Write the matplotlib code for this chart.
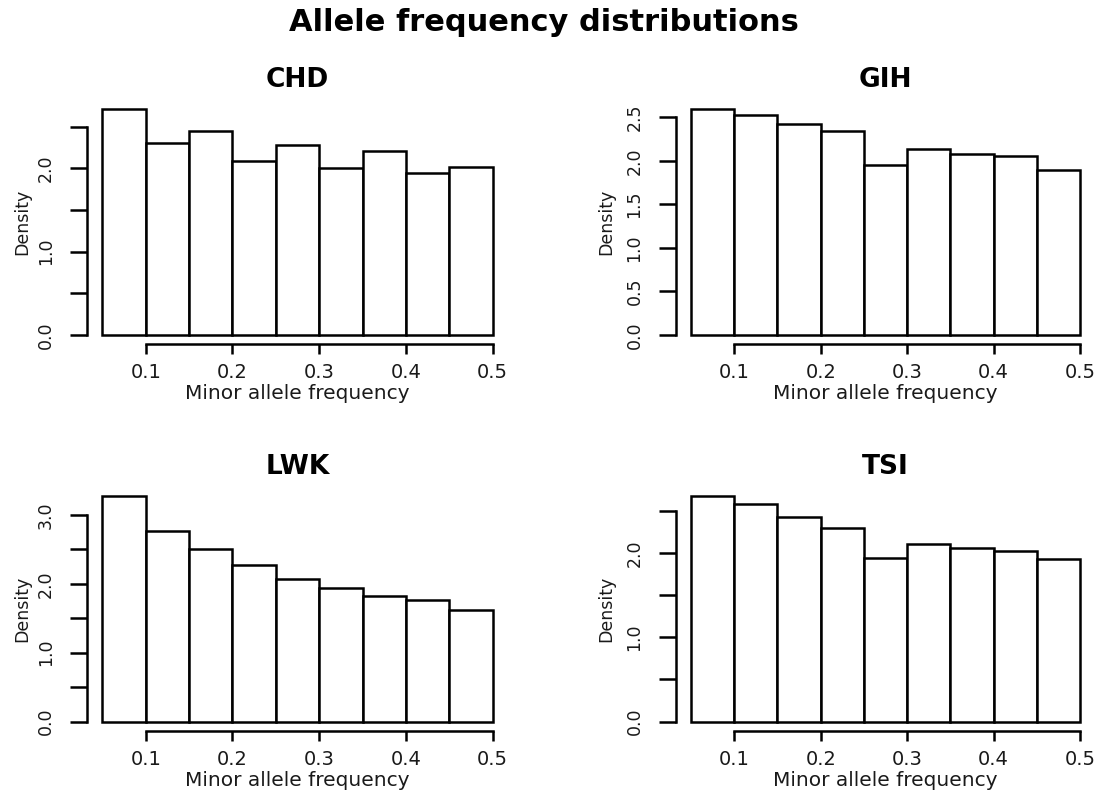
import numpy as np
import matplotlib
matplotlib.use("Agg")
import matplotlib.pyplot as plt

plt.rcParams['font.family'] = ['DejaVu Sans']

# bin edges shared by all histograms
edges = [0.05, 0.10, 0.15, 0.20, 0.25, 0.30, 0.35, 0.40, 0.45, 0.50]

# densities
populations = ["CHD", "GIH", "LWK", "TSI"]
chd = [2.72, 2.31, 2.45, 2.09, 2.28, 2.00, 2.21, 1.94, 2.02]
gih = [2.60, 2.53, 2.42, 2.34, 1.95, 2.14, 2.08, 2.05, 1.90]
lwk = [3.28, 2.77, 2.50, 2.27, 2.07, 1.94, 1.82, 1.76, 1.62]
tsi = [2.68, 2.58, 2.43, 2.29, 1.94, 2.10, 2.06, 2.02, 1.93]
densities = [chd, gih, lwk, tsi]

# y ticks and which ones R actually labelled
yticks = [
    [0.0, 0.5, 1.0, 1.5, 2.0, 2.5],
    [0.0, 0.5, 1.0, 1.5, 2.0, 2.5],
    [0.0, 0.5, 1.0, 1.5, 2.0, 2.5, 3.0],
    [0.0, 0.5, 1.0, 1.5, 2.0, 2.5],
]
yticklabels = [
    ["0.0", "", "1.0", "", "2.0", ""],
    ["0.0", "0.5", "1.0", "1.5", "2.0", "2.5"],
    ["0.0", "", "1.0", "", "2.0", "", "3.0"],
    ["0.0", "", "1.0", "", "2.0", ""],
]
xticks = [0.1, 0.2, 0.3, 0.4, 0.5]
xticklabels = ["0.1", "0.2", "0.3", "0.4", "0.5"]

W, H = 1103, 791
fig = plt.figure(figsize=(W / 100, H / 100), dpi=100)

# plot regions in pixels: (left, right, top, bottom)
cols = [(86.7, 508.3), (675.5, 1095.6)]
rows = [(99.5, 344.0), (486.5, 730.7)]
ylab_x = [-0.152, -0.164]

lw = 1.8
txt = '#1a1a1a'
for k, (name, dens) in enumerate(zip(populations, densities)):
    r, c = divmod(k, 2)
    l, rr = cols[c]
    t, b = rows[r]
    ax = fig.add_axes([l / W, 1 - b / H, (rr - l) / W, (b - t) / H])

    ax.bar(edges[:-1], dens, width=np.diff(edges), align='edge',
           facecolor='white', edgecolor='black', linewidth=lw)

    # R style axis ranges (4% extension)
    span = edges[-1] - edges[0]
    ymax = max(dens)
    ax.set_xlim(edges[0] - 0.04 * span, edges[-1] + 0.04 * span)
    ax.set_ylim(-0.04 * ymax, 1.04 * ymax)

    for s in ['top', 'right']:
        ax.spines[s].set_visible(False)
    ax.spines['left'].set_bounds(yticks[k][0], yticks[k][-1])
    ax.spines['bottom'].set_bounds(xticks[0], xticks[-1])
    ax.spines['left'].set_linewidth(lw)
    ax.spines['bottom'].set_linewidth(lw)

    ax.set_xticks(xticks)
    ax.set_xticklabels(xticklabels, fontsize=14, color=txt)
    ax.set_yticks(yticks[k])
    ax.set_yticklabels(yticklabels[k], fontsize=12.5, color=txt,
                       rotation=90, va='center')
    ax.tick_params(axis='x', length=7, width=lw, pad=7)
    ax.tick_params(axis='y', length=12, width=lw, pad=11)

    ax.set_title(name, fontsize=19, fontweight='bold', pad=9)
    ax.set_xlabel("Minor allele frequency", fontsize=14.5, color=txt)
    ax.xaxis.set_label_coords(0.5, -(384 - 344) / 244.5)
    ax.set_ylabel("Density", fontsize=12.5, color=txt)
    ax.yaxis.set_label_coords(ylab_x[c], 0.5)
    ax.yaxis.label.set_va('center')

fig.text(0.493, 0.972, "Allele frequency distributions", fontsize=22,
         fontweight='bold', ha='center', va='center')

fig.savefig("out.png", dpi=100)
